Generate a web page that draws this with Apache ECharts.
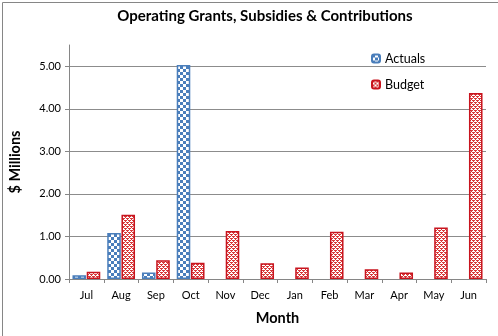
<!DOCTYPE html>
<html>
<head>
<meta charset="utf-8">
<script src="https://cdn.jsdelivr.net/npm/echarts@6/dist/echarts.min.js"></script>
<style>
html,body{margin:0;padding:0;background:#fff;}
#c{width:498px;height:336px;}
</style>
</head>
<body>
<div id="c"></div>
<script>
var months = ['Jul','Aug','Sep','Oct','Nov','Dec','Jan','Feb','Mar','Apr','May','Jun'];
var actuals = [0.09, 1.08, 0.15, 5.03, null, null, null, null, null, null, null, null];
var budget = [0.17, 1.51, 0.44, 0.38, 1.13, 0.37, 0.27, 1.11, 0.23, 0.15, 1.21, 4.37];
var yTicks = [0, 1, 2, 3, 4, 5];

function checker(){
  var c = document.createElement('canvas'); c.width = 6; c.height = 6;
  var g = c.getContext('2d');
  g.fillStyle = '#fff'; g.fillRect(0,0,6,6);
  g.fillStyle = '#4a7ebb';
  g.fillRect(0,0,3,3); g.fillRect(3,3,3,3);
  return c;
}
function weave(){
  var c = document.createElement('canvas'); c.width = 4; c.height = 4;
  var g = c.getContext('2d');
  g.fillStyle = '#fff'; g.fillRect(0,0,4,4);
  g.fillStyle = '#d83a3a';
  var px = [[0,0],[1,0],[1,1],[2,2],[3,2],[3,3],[0,2],[2,0]];
  px.forEach(function(p){ g.fillRect(p[0],p[1],1,1); });
  return c;
}
var actPat = {image: checker(), repeat: 'repeat'};
var budPat = {image: weave(), repeat: 'repeat'};

var chart = echarts.init(document.getElementById('c'));
var font = 'Lato, "Open Sans", sans-serif';
chart.setOption({
  animation: false,
  textStyle: {fontFamily: font},
  title: {
    text: 'Operating Grants, Subsidies & Contributions',
    left: 260, top: 4, textAlign: 'center',
    textStyle: {fontSize: 15, fontWeight: 'bold', color: '#000', fontFamily: font}
  },
  graphic: [{
    type: 'rect', left: 0, top: 0, silent: true,
    shape: {x: 0.5, y: 0.5, width: 497, height: 335},
    style: {fill: 'none', stroke: '#868686', lineWidth: 1}
  }],
  legend: {
    orient: 'vertical', left: 366, top: 47, itemGap: 13,
    itemWidth: 8, itemHeight: 8,
    textStyle: {fontSize: 12.5, color: '#000', fontFamily: font},
    data: ['Actuals', 'Budget']
  },
  grid: {left: 69, right: 12, top: 45, bottom: 57},
  xAxis: {
    type: 'category', data: months,
    name: 'Month', nameLocation: 'middle', nameGap: 32,
    nameTextStyle: {fontSize: 14.5, fontWeight: 'bold', color: '#000', fontFamily: font},
    axisLine: {lineStyle: {color: '#868686', width: 1}},
    axisTick: {show: true, alignWithLabel: false, length: 4, lineStyle: {color: '#868686'}},
    axisLabel: {fontSize: 11, color: '#000', margin: 11, fontFamily: font}
  },
  yAxis: {
    type: 'value', min: 0, max: 5.5, interval: 1,
    name: '$ Millions', nameLocation: 'middle', nameGap: 46,
    nameTextStyle: {fontSize: 14.5, fontWeight: 'bold', color: '#000', fontFamily: font},
    axisLine: {show: true, lineStyle: {color: '#868686', width: 1}},
    axisTick: {show: true, length: 4, lineStyle: {color: '#868686'}},
    axisLabel: {fontSize: 11, color: '#000', margin: 8, fontFamily: font, showMaxLabel: false,
      formatter: function(v){ return yTicks.indexOf(v) >= 0 ? v.toFixed(2) : ''; }},
    splitLine: {show: true, lineStyle: {color: ['#8c8c8c','#8c8c8c','#8c8c8c','#8c8c8c','#8c8c8c','#8c8c8c','rgba(0,0,0,0)'], width: 1}}
  },
  series: [
    {name: 'Actuals', type: 'bar', data: actuals, barGap: '5%', barCategoryGap: '20%',
     itemStyle: {color: actPat, borderColor: '#4a7ebb', borderWidth: 1.5}},
    {name: 'Budget', type: 'bar', data: budget,
     itemStyle: {color: budPat, borderColor: '#c8141e', borderWidth: 1.5}}
  ]
});
</script>
</body>
</html>
